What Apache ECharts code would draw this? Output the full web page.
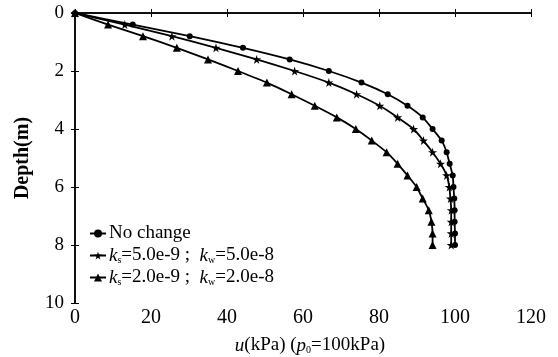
<!DOCTYPE html>
<html>
<head>
<meta charset="utf-8">
<script src="https://cdn.jsdelivr.net/npm/echarts@6/dist/echarts.min.js"></script>
<style>
    html, body { margin: 0; padding: 0; background: #fff; }
    #chart { width: 558px; height: 357px; }
</style>
</head>
<body>
<div id="chart"></div>
<script>
// depth of each marker (m)
const depths = [0, 0.4, 0.8, 1.2, 1.6, 2.0, 2.4, 2.8, 3.2, 3.6, 4.0, 4.4, 4.8, 5.2, 5.6, 6.0, 6.4, 6.8, 7.2, 7.6, 8.0];

// pore pressure u (kPa) at each depth
const noChange = [0, 15.2, 30.2, 44.2, 56.5, 66.8, 75.4, 82.3, 87.5, 91.5, 94.1, 96.5, 97.8, 98.6, 99.4, 99.6, 99.8, 99.9, 99.9, 100, 100];
const ks5 = [0, 13.1, 25.5, 37.1, 47.8, 57.8, 66.8, 74.1, 80.2, 84.9, 89.1, 91.7, 94.1, 96.2, 97.8, 98.5, 98.8, 99.0, 99.0, 99.0, 99.0];
const ks2 = [0, 8.7, 17.9, 26.8, 35.0, 42.9, 50.5, 57.0, 63.1, 68.9, 73.9, 78.1, 82.0, 84.9, 87.5, 89.9, 91.5, 93.1, 93.8, 94.1, 94.1];

const seriesNames = ['No change', 'ks5', 'ks2'];
const legendLabels = [
    'No change',
    '{i|k}{sub|s}=5.0e-9 ;  {i|k}{sub|w}=5.0e-8',
    '{i|k}{sub|s}=2.0e-9 ;  {i|k}{sub|w}=2.0e-8'
];

const xTicks = { min: 0, max: 120, interval: 20 };
const yTicks = { min: 0, max: 10, interval: 2 };

const starPath = 'path://M50,0 L61,35 L98,35 L68,57 L79,91 L50,70 L21,91 L32,57 L2,35 L39,35 Z';

const font = '"Liberation Serif", "DejaVu Serif", serif';

const chart = echarts.init(document.getElementById('chart'), null, { renderer: 'canvas' });

const toPairs = (values) => values.map((v, i) => [v, depths[i]]);

const makeSeries = (name, values, symbol, size) => ({
    name,
    type: 'line',
    data: toPairs(values),
    symbol,
    symbolSize: size,
    showAllSymbol: true,
    smooth: 0.2,
    lineStyle: { color: '#000', width: 1.8 },
    itemStyle: { color: '#000' },
    xAxisIndex: 0,
    yAxisIndex: 0
});

const tickStyle = { inside: true, length: 4, lineStyle: { color: '#000', width: 1 } };

chart.setOption({
    animation: false,
    grid: { left: 75, right: 27, top: 13, bottom: 54, show: false, containLabel: false, outerBoundsMode: 'none' },
    legend: {
        data: seriesNames,
        orient: 'vertical',
        left: 84,
        top: 219,
        itemWidth: 16,
        itemHeight: 10,
        itemGap: 3,
        formatter: (name) => legendLabels[seriesNames.indexOf(name)],
        textStyle: {
            fontFamily: font,
            fontSize: 19,
            color: '#000',
            padding: [0, 0, 0, -2],
            rich: {
                i: { fontFamily: font, fontSize: 19, fontStyle: 'italic', color: '#000' },
                sub: { fontFamily: font, fontSize: 10, color: '#000', verticalAlign: 'bottom', padding: [9, 0, 0, 0] }
            }
        }
    },
    xAxis: [
        {
            type: 'value',
            position: 'bottom',
            ...xTicks,
            name: '{i|u}(kPa) ({i|p}{sub|0}=100kPa)',
            nameLocation: 'middle',
            nameGap: 33,
            nameTextStyle: {
                fontFamily: font,
                fontSize: 19,
                color: '#000',
                padding: [0, 0, 0, 14],
                rich: {
                    i: { fontFamily: font, fontSize: 19, fontStyle: 'italic', color: '#000' },
                    sub: { fontFamily: font, fontSize: 10, color: '#000', verticalAlign: 'bottom', padding: [9, 0, 0, 0] }
                }
            },
            axisLine: { show: true, lineStyle: { color: '#000', width: 1.5 } },
            axisTick: tickStyle,
            axisLabel: { fontFamily: font, fontSize: 20, color: '#000', margin: 5 },
            splitLine: { show: false }
        },
        {
            type: 'value',
            position: 'top',
            ...xTicks,
            axisLine: { show: true, lineStyle: { color: '#000', width: 1.5 } },
            axisTick: tickStyle,
            axisLabel: { show: false },
            splitLine: { show: false }
        }
    ],
    yAxis: [
        {
            type: 'value',
            position: 'left',
            inverse: true,
            ...yTicks,
            name: 'Depth(m)',
            nameLocation: 'middle',
            nameRotate: 90,
            nameGap: 42,
            nameTextStyle: { fontFamily: font, fontSize: 20, fontWeight: 'bold', color: '#000' },
            axisLine: { show: true, lineStyle: { color: '#000', width: 1.5 } },
            axisTick: tickStyle,
            axisLabel: { fontFamily: font, fontSize: 19, color: '#000', margin: 11 },
            splitLine: { show: false }
        },
        {
            type: 'value',
            position: 'right',
            inverse: true,
            ...yTicks,
            axisLine: { show: true, lineStyle: { color: '#000', width: 1.5 } },
            axisTick: tickStyle,
            axisLabel: { show: false },
            splitLine: { show: false }
        }
    ],
    series: [
        makeSeries(seriesNames[0], noChange, 'circle', 6),
        makeSeries(seriesNames[1], ks5, starPath, 9),
        makeSeries(seriesNames[2], ks2, 'triangle', 8)
    ]
});
</script>
</body>
</html>
